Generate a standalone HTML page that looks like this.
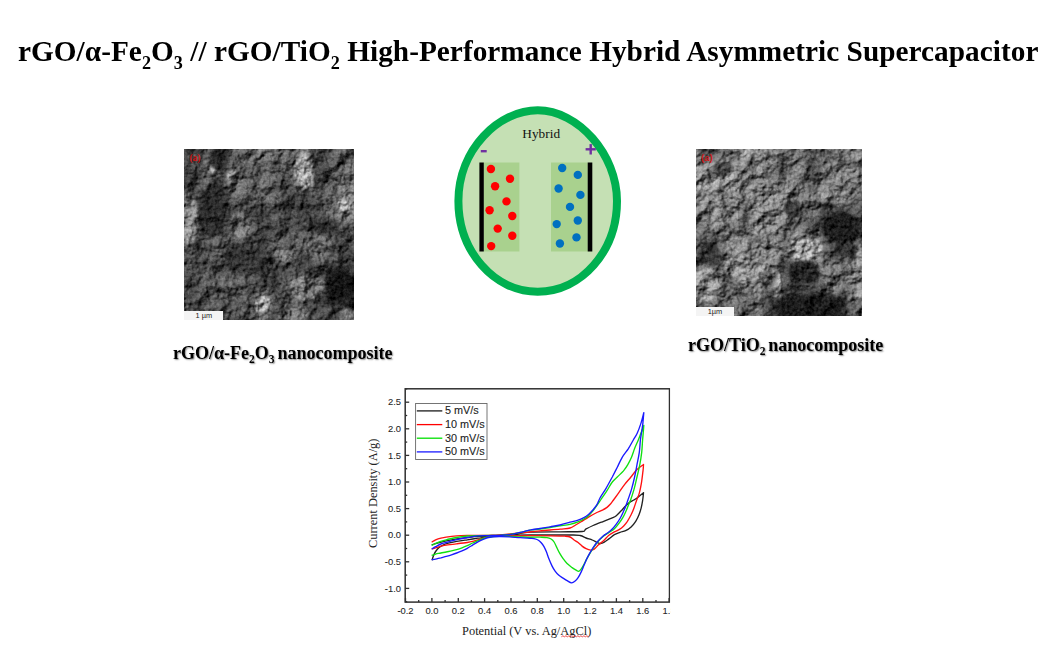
<!DOCTYPE html>
<html><head><meta charset="utf-8"><title>Graphical abstract</title>
<style>
html,body{margin:0;padding:0;background:#fff;}
body{width:1040px;height:648px;position:relative;overflow:hidden;font-family:"Liberation Serif",serif;color:#000;}
.abs{position:absolute;}
#title,.cap{will-change:transform;}
#title{left:17.5px;top:32.6px;width:1030px;font-size:29.27px;font-weight:bold;white-space:nowrap;line-height:36px;letter-spacing:0.035px;}
#title sub{font-size:62%;vertical-align:baseline;position:relative;top:0.42em;line-height:0;}
.cap sub{font-size:64%;vertical-align:baseline;position:relative;top:0.36em;line-height:0;}
.cap{font-size:18px;word-spacing:-1.6px;font-weight:bold;white-space:nowrap;line-height:20px;text-shadow:1px 1px 1.5px rgba(0,0,0,.45);}
#capL{left:173px;top:343px;}
#capR{left:688px;top:335px;}
.sem{overflow:hidden;background:#5a5a5a;}
#semL{left:184.4px;top:149px;width:170px;height:171px;}
#semR{left:696px;top:149px;width:166px;height:167px;}
.semsvg{display:block;position:absolute;left:0;top:0;}
.a{position:absolute;color:#d01818;font-weight:bold;font-size:9.5px;line-height:10px;}
.bar{position:absolute;left:0;bottom:0;background:#f4f4f4;color:#222;font-family:"Liberation Sans",sans-serif;font-size:7.4px;line-height:9.5px;text-align:center;}
svg text{font-family:"Liberation Sans",sans-serif;}
#main{left:0;top:0;}
.tk line{stroke:#303030;stroke-width:1.3;}
.tl text{font-size:9.4px;fill:#262626;stroke:#262626;stroke-width:0.08;}
.lg{font-size:10.85px;fill:#222;stroke:#222;stroke-width:0.1;}
.ser{font-family:"Liberation Serif",serif !important;}
</style></head><body>

<div id="semL" class="abs sem"><svg class="semsvg" width="170" height="171" viewBox="0 0 170 171"><defs><filter id="flb" filterUnits="userSpaceOnUse" x="-30" y="-30" width="230" height="231" color-interpolation-filters="sRGB"><feGaussianBlur stdDeviation="3.2"/></filter><filter id="fll" filterUnits="userSpaceOnUse" x="-30" y="-30" width="230" height="231" color-interpolation-filters="sRGB"><feTurbulence type="fractalNoise" baseFrequency="0.05" numOctaves="2" seed="5" result="d"/><feDisplacementMap in="SourceGraphic" in2="d" scale="10" xChannelSelector="R" yChannelSelector="G" result="dm"/><feGaussianBlur in="dm" stdDeviation="1.3"/></filter><filter id="fl" filterUnits="userSpaceOnUse" x="-30" y="-30" width="230" height="231" color-interpolation-filters="sRGB"><feTurbulence type="fractalNoise" baseFrequency="0.07" numOctaves="4" seed="3" result="t"/><feColorMatrix in="t" type="matrix" values="0 0 0 0 1  0 0 0 0 1  0 0 0 0 1  1 0 0 0 0" result="ha"/><feDiffuseLighting in="ha" surfaceScale="6" diffuseConstant="1" lighting-color="#fff" result="lit"><feDistantLight azimuth="225" elevation="50"/></feDiffuseLighting><feComposite in="SourceGraphic" in2="lit" operator="arithmetic" k1="1.36" k2="0.0" k3="0" k4="0" result="m"/><feTurbulence type="fractalNoise" baseFrequency="0.35" numOctaves="2" seed="8" result="t2"/><feColorMatrix in="t2" type="matrix" values="1 0 0 0 0 1 0 0 0 0 1 0 0 0 0 0 0 0 0 1" result="g2"/><feComposite in="m" in2="g2" operator="arithmetic" k1="0" k2="1" k3="0.25" k4="-0.125"/></filter></defs><g filter="url(#fl)"><rect x="-30" y="-30" width="230" height="231" fill="#555"/><g filter="url(#flb)"><rect x="-14.7" y="-14.8" width="15.2" height="15.2" fill="rgb(69,69,69)"/><rect x="-0.5" y="-14.8" width="15.2" height="15.2" fill="rgb(69,69,69)"/><rect x="13.7" y="-14.8" width="15.2" height="15.2" fill="rgb(87,87,87)"/><rect x="27.8" y="-14.8" width="15.2" height="15.2" fill="rgb(40,40,40)"/><rect x="42.0" y="-14.8" width="15.2" height="15.2" fill="rgb(81,81,81)"/><rect x="56.2" y="-14.8" width="15.2" height="15.2" fill="rgb(98,98,98)"/><rect x="70.3" y="-14.8" width="15.2" height="15.2" fill="rgb(110,110,110)"/><rect x="84.5" y="-14.8" width="15.2" height="15.2" fill="rgb(98,98,98)"/><rect x="98.7" y="-14.8" width="15.2" height="15.2" fill="rgb(92,92,92)"/><rect x="112.8" y="-14.8" width="15.2" height="15.2" fill="rgb(115,115,115)"/><rect x="127.0" y="-14.8" width="15.2" height="15.2" fill="rgb(63,63,63)"/><rect x="141.2" y="-14.8" width="15.2" height="15.2" fill="rgb(81,81,81)"/><rect x="155.3" y="-14.8" width="15.2" height="15.2" fill="rgb(92,92,92)"/><rect x="169.5" y="-14.8" width="15.2" height="15.2" fill="rgb(92,92,92)"/><rect x="-14.7" y="-0.5" width="15.2" height="15.2" fill="rgb(69,69,69)"/><rect x="-0.5" y="-0.5" width="15.2" height="15.2" fill="rgb(69,69,69)"/><rect x="13.7" y="-0.5" width="15.2" height="15.2" fill="rgb(87,87,87)"/><rect x="27.8" y="-0.5" width="15.2" height="15.2" fill="rgb(40,40,40)"/><rect x="42.0" y="-0.5" width="15.2" height="15.2" fill="rgb(81,81,81)"/><rect x="56.2" y="-0.5" width="15.2" height="15.2" fill="rgb(98,98,98)"/><rect x="70.3" y="-0.5" width="15.2" height="15.2" fill="rgb(110,110,110)"/><rect x="84.5" y="-0.5" width="15.2" height="15.2" fill="rgb(98,98,98)"/><rect x="98.7" y="-0.5" width="15.2" height="15.2" fill="rgb(92,92,92)"/><rect x="112.8" y="-0.5" width="15.2" height="15.2" fill="rgb(115,115,115)"/><rect x="127.0" y="-0.5" width="15.2" height="15.2" fill="rgb(63,63,63)"/><rect x="141.2" y="-0.5" width="15.2" height="15.2" fill="rgb(81,81,81)"/><rect x="155.3" y="-0.5" width="15.2" height="15.2" fill="rgb(92,92,92)"/><rect x="169.5" y="-0.5" width="15.2" height="15.2" fill="rgb(92,92,92)"/><rect x="-14.7" y="13.8" width="15.2" height="15.2" fill="rgb(63,63,63)"/><rect x="-0.5" y="13.8" width="15.2" height="15.2" fill="rgb(63,63,63)"/><rect x="13.7" y="13.8" width="15.2" height="15.2" fill="rgb(92,92,92)"/><rect x="27.8" y="13.8" width="15.2" height="15.2" fill="rgb(63,63,63)"/><rect x="42.0" y="13.8" width="15.2" height="15.2" fill="rgb(92,92,92)"/><rect x="56.2" y="13.8" width="15.2" height="15.2" fill="rgb(87,87,87)"/><rect x="70.3" y="13.8" width="15.2" height="15.2" fill="rgb(92,92,92)"/><rect x="84.5" y="13.8" width="15.2" height="15.2" fill="rgb(87,87,87)"/><rect x="98.7" y="13.8" width="15.2" height="15.2" fill="rgb(81,81,81)"/><rect x="112.8" y="13.8" width="15.2" height="15.2" fill="rgb(150,150,150)"/><rect x="127.0" y="13.8" width="15.2" height="15.2" fill="rgb(69,69,69)"/><rect x="141.2" y="13.8" width="15.2" height="15.2" fill="rgb(87,87,87)"/><rect x="155.3" y="13.8" width="15.2" height="15.2" fill="rgb(98,98,98)"/><rect x="169.5" y="13.8" width="15.2" height="15.2" fill="rgb(98,98,98)"/><rect x="-14.7" y="28.0" width="15.2" height="15.2" fill="rgb(57,57,57)"/><rect x="-0.5" y="28.0" width="15.2" height="15.2" fill="rgb(57,57,57)"/><rect x="13.7" y="28.0" width="15.2" height="15.2" fill="rgb(87,87,87)"/><rect x="27.8" y="28.0" width="15.2" height="15.2" fill="rgb(46,46,46)"/><rect x="42.0" y="28.0" width="15.2" height="15.2" fill="rgb(110,110,110)"/><rect x="56.2" y="28.0" width="15.2" height="15.2" fill="rgb(92,92,92)"/><rect x="70.3" y="28.0" width="15.2" height="15.2" fill="rgb(98,98,98)"/><rect x="84.5" y="28.0" width="15.2" height="15.2" fill="rgb(87,87,87)"/><rect x="98.7" y="28.0" width="15.2" height="15.2" fill="rgb(75,75,75)"/><rect x="112.8" y="28.0" width="15.2" height="15.2" fill="rgb(127,127,127)"/><rect x="127.0" y="28.0" width="15.2" height="15.2" fill="rgb(69,69,69)"/><rect x="141.2" y="28.0" width="15.2" height="15.2" fill="rgb(87,87,87)"/><rect x="155.3" y="28.0" width="15.2" height="15.2" fill="rgb(104,104,104)"/><rect x="169.5" y="28.0" width="15.2" height="15.2" fill="rgb(104,104,104)"/><rect x="-14.7" y="42.2" width="15.2" height="15.2" fill="rgb(81,81,81)"/><rect x="-0.5" y="42.2" width="15.2" height="15.2" fill="rgb(81,81,81)"/><rect x="13.7" y="42.2" width="15.2" height="15.2" fill="rgb(46,46,46)"/><rect x="27.8" y="42.2" width="15.2" height="15.2" fill="rgb(40,40,40)"/><rect x="42.0" y="42.2" width="15.2" height="15.2" fill="rgb(87,87,87)"/><rect x="56.2" y="42.2" width="15.2" height="15.2" fill="rgb(92,92,92)"/><rect x="70.3" y="42.2" width="15.2" height="15.2" fill="rgb(98,98,98)"/><rect x="84.5" y="42.2" width="15.2" height="15.2" fill="rgb(87,87,87)"/><rect x="98.7" y="42.2" width="15.2" height="15.2" fill="rgb(63,63,63)"/><rect x="112.8" y="42.2" width="15.2" height="15.2" fill="rgb(63,63,63)"/><rect x="127.0" y="42.2" width="15.2" height="15.2" fill="rgb(75,75,75)"/><rect x="141.2" y="42.2" width="15.2" height="15.2" fill="rgb(92,92,92)"/><rect x="155.3" y="42.2" width="15.2" height="15.2" fill="rgb(127,127,127)"/><rect x="169.5" y="42.2" width="15.2" height="15.2" fill="rgb(127,127,127)"/><rect x="-14.7" y="56.5" width="15.2" height="15.2" fill="rgb(104,104,104)"/><rect x="-0.5" y="56.5" width="15.2" height="15.2" fill="rgb(104,104,104)"/><rect x="13.7" y="56.5" width="15.2" height="15.2" fill="rgb(52,52,52)"/><rect x="27.8" y="56.5" width="15.2" height="15.2" fill="rgb(52,52,52)"/><rect x="42.0" y="56.5" width="15.2" height="15.2" fill="rgb(57,57,57)"/><rect x="56.2" y="56.5" width="15.2" height="15.2" fill="rgb(63,63,63)"/><rect x="70.3" y="56.5" width="15.2" height="15.2" fill="rgb(57,57,57)"/><rect x="84.5" y="56.5" width="15.2" height="15.2" fill="rgb(81,81,81)"/><rect x="98.7" y="56.5" width="15.2" height="15.2" fill="rgb(69,69,69)"/><rect x="112.8" y="56.5" width="15.2" height="15.2" fill="rgb(57,57,57)"/><rect x="127.0" y="56.5" width="15.2" height="15.2" fill="rgb(69,69,69)"/><rect x="141.2" y="56.5" width="15.2" height="15.2" fill="rgb(110,110,110)"/><rect x="155.3" y="56.5" width="15.2" height="15.2" fill="rgb(127,127,127)"/><rect x="169.5" y="56.5" width="15.2" height="15.2" fill="rgb(127,127,127)"/><rect x="-14.7" y="70.8" width="15.2" height="15.2" fill="rgb(110,110,110)"/><rect x="-0.5" y="70.8" width="15.2" height="15.2" fill="rgb(110,110,110)"/><rect x="13.7" y="70.8" width="15.2" height="15.2" fill="rgb(52,52,52)"/><rect x="27.8" y="70.8" width="15.2" height="15.2" fill="rgb(46,46,46)"/><rect x="42.0" y="70.8" width="15.2" height="15.2" fill="rgb(87,87,87)"/><rect x="56.2" y="70.8" width="15.2" height="15.2" fill="rgb(92,92,92)"/><rect x="70.3" y="70.8" width="15.2" height="15.2" fill="rgb(63,63,63)"/><rect x="84.5" y="70.8" width="15.2" height="15.2" fill="rgb(69,69,69)"/><rect x="98.7" y="70.8" width="15.2" height="15.2" fill="rgb(75,75,75)"/><rect x="112.8" y="70.8" width="15.2" height="15.2" fill="rgb(69,69,69)"/><rect x="127.0" y="70.8" width="15.2" height="15.2" fill="rgb(46,46,46)"/><rect x="141.2" y="70.8" width="15.2" height="15.2" fill="rgb(57,57,57)"/><rect x="155.3" y="70.8" width="15.2" height="15.2" fill="rgb(81,81,81)"/><rect x="169.5" y="70.8" width="15.2" height="15.2" fill="rgb(81,81,81)"/><rect x="-14.7" y="85.0" width="15.2" height="15.2" fill="rgb(92,92,92)"/><rect x="-0.5" y="85.0" width="15.2" height="15.2" fill="rgb(92,92,92)"/><rect x="13.7" y="85.0" width="15.2" height="15.2" fill="rgb(75,75,75)"/><rect x="27.8" y="85.0" width="15.2" height="15.2" fill="rgb(87,87,87)"/><rect x="42.0" y="85.0" width="15.2" height="15.2" fill="rgb(81,81,81)"/><rect x="56.2" y="85.0" width="15.2" height="15.2" fill="rgb(75,75,75)"/><rect x="70.3" y="85.0" width="15.2" height="15.2" fill="rgb(57,57,57)"/><rect x="84.5" y="85.0" width="15.2" height="15.2" fill="rgb(81,81,81)"/><rect x="98.7" y="85.0" width="15.2" height="15.2" fill="rgb(87,87,87)"/><rect x="112.8" y="85.0" width="15.2" height="15.2" fill="rgb(92,92,92)"/><rect x="127.0" y="85.0" width="15.2" height="15.2" fill="rgb(81,81,81)"/><rect x="141.2" y="85.0" width="15.2" height="15.2" fill="rgb(75,75,75)"/><rect x="155.3" y="85.0" width="15.2" height="15.2" fill="rgb(69,69,69)"/><rect x="169.5" y="85.0" width="15.2" height="15.2" fill="rgb(69,69,69)"/><rect x="-14.7" y="99.2" width="15.2" height="15.2" fill="rgb(75,75,75)"/><rect x="-0.5" y="99.2" width="15.2" height="15.2" fill="rgb(75,75,75)"/><rect x="13.7" y="99.2" width="15.2" height="15.2" fill="rgb(75,75,75)"/><rect x="27.8" y="99.2" width="15.2" height="15.2" fill="rgb(81,81,81)"/><rect x="42.0" y="99.2" width="15.2" height="15.2" fill="rgb(46,46,46)"/><rect x="56.2" y="99.2" width="15.2" height="15.2" fill="rgb(52,52,52)"/><rect x="70.3" y="99.2" width="15.2" height="15.2" fill="rgb(52,52,52)"/><rect x="84.5" y="99.2" width="15.2" height="15.2" fill="rgb(81,81,81)"/><rect x="98.7" y="99.2" width="15.2" height="15.2" fill="rgb(92,92,92)"/><rect x="112.8" y="99.2" width="15.2" height="15.2" fill="rgb(63,63,63)"/><rect x="127.0" y="99.2" width="15.2" height="15.2" fill="rgb(98,98,98)"/><rect x="141.2" y="99.2" width="15.2" height="15.2" fill="rgb(81,81,81)"/><rect x="155.3" y="99.2" width="15.2" height="15.2" fill="rgb(57,57,57)"/><rect x="169.5" y="99.2" width="15.2" height="15.2" fill="rgb(57,57,57)"/><rect x="-14.7" y="113.5" width="15.2" height="15.2" fill="rgb(75,75,75)"/><rect x="-0.5" y="113.5" width="15.2" height="15.2" fill="rgb(75,75,75)"/><rect x="13.7" y="113.5" width="15.2" height="15.2" fill="rgb(81,81,81)"/><rect x="27.8" y="113.5" width="15.2" height="15.2" fill="rgb(69,69,69)"/><rect x="42.0" y="113.5" width="15.2" height="15.2" fill="rgb(69,69,69)"/><rect x="56.2" y="113.5" width="15.2" height="15.2" fill="rgb(98,98,98)"/><rect x="70.3" y="113.5" width="15.2" height="15.2" fill="rgb(57,57,57)"/><rect x="84.5" y="113.5" width="15.2" height="15.2" fill="rgb(63,63,63)"/><rect x="98.7" y="113.5" width="15.2" height="15.2" fill="rgb(69,69,69)"/><rect x="112.8" y="113.5" width="15.2" height="15.2" fill="rgb(63,63,63)"/><rect x="127.0" y="113.5" width="15.2" height="15.2" fill="rgb(63,63,63)"/><rect x="141.2" y="113.5" width="15.2" height="15.2" fill="rgb(57,57,57)"/><rect x="155.3" y="113.5" width="15.2" height="15.2" fill="rgb(52,52,52)"/><rect x="169.5" y="113.5" width="15.2" height="15.2" fill="rgb(52,52,52)"/><rect x="-14.7" y="127.8" width="15.2" height="15.2" fill="rgb(63,63,63)"/><rect x="-0.5" y="127.8" width="15.2" height="15.2" fill="rgb(63,63,63)"/><rect x="13.7" y="127.8" width="15.2" height="15.2" fill="rgb(81,81,81)"/><rect x="27.8" y="127.8" width="15.2" height="15.2" fill="rgb(92,92,92)"/><rect x="42.0" y="127.8" width="15.2" height="15.2" fill="rgb(92,92,92)"/><rect x="56.2" y="127.8" width="15.2" height="15.2" fill="rgb(81,81,81)"/><rect x="70.3" y="127.8" width="15.2" height="15.2" fill="rgb(69,69,69)"/><rect x="84.5" y="127.8" width="15.2" height="15.2" fill="rgb(57,57,57)"/><rect x="98.7" y="127.8" width="15.2" height="15.2" fill="rgb(98,98,98)"/><rect x="112.8" y="127.8" width="15.2" height="15.2" fill="rgb(110,110,110)"/><rect x="127.0" y="127.8" width="15.2" height="15.2" fill="rgb(92,92,92)"/><rect x="141.2" y="127.8" width="15.2" height="15.2" fill="rgb(28,28,28)"/><rect x="155.3" y="127.8" width="15.2" height="15.2" fill="rgb(23,23,23)"/><rect x="169.5" y="127.8" width="15.2" height="15.2" fill="rgb(23,23,23)"/><rect x="-14.7" y="142.0" width="15.2" height="15.2" fill="rgb(75,75,75)"/><rect x="-0.5" y="142.0" width="15.2" height="15.2" fill="rgb(75,75,75)"/><rect x="13.7" y="142.0" width="15.2" height="15.2" fill="rgb(81,81,81)"/><rect x="27.8" y="142.0" width="15.2" height="15.2" fill="rgb(87,87,87)"/><rect x="42.0" y="142.0" width="15.2" height="15.2" fill="rgb(75,75,75)"/><rect x="56.2" y="142.0" width="15.2" height="15.2" fill="rgb(87,87,87)"/><rect x="70.3" y="142.0" width="15.2" height="15.2" fill="rgb(115,115,115)"/><rect x="84.5" y="142.0" width="15.2" height="15.2" fill="rgb(69,69,69)"/><rect x="98.7" y="142.0" width="15.2" height="15.2" fill="rgb(87,87,87)"/><rect x="112.8" y="142.0" width="15.2" height="15.2" fill="rgb(92,92,92)"/><rect x="127.0" y="142.0" width="15.2" height="15.2" fill="rgb(57,57,57)"/><rect x="141.2" y="142.0" width="15.2" height="15.2" fill="rgb(23,23,23)"/><rect x="155.3" y="142.0" width="15.2" height="15.2" fill="rgb(28,28,28)"/><rect x="169.5" y="142.0" width="15.2" height="15.2" fill="rgb(28,28,28)"/><rect x="-14.7" y="156.2" width="15.2" height="15.2" fill="rgb(75,75,75)"/><rect x="-0.5" y="156.2" width="15.2" height="15.2" fill="rgb(75,75,75)"/><rect x="13.7" y="156.2" width="15.2" height="15.2" fill="rgb(75,75,75)"/><rect x="27.8" y="156.2" width="15.2" height="15.2" fill="rgb(75,75,75)"/><rect x="42.0" y="156.2" width="15.2" height="15.2" fill="rgb(75,75,75)"/><rect x="56.2" y="156.2" width="15.2" height="15.2" fill="rgb(81,81,81)"/><rect x="70.3" y="156.2" width="15.2" height="15.2" fill="rgb(104,104,104)"/><rect x="84.5" y="156.2" width="15.2" height="15.2" fill="rgb(75,75,75)"/><rect x="98.7" y="156.2" width="15.2" height="15.2" fill="rgb(98,98,98)"/><rect x="112.8" y="156.2" width="15.2" height="15.2" fill="rgb(75,75,75)"/><rect x="127.0" y="156.2" width="15.2" height="15.2" fill="rgb(75,75,75)"/><rect x="141.2" y="156.2" width="15.2" height="15.2" fill="rgb(75,75,75)"/><rect x="155.3" y="156.2" width="15.2" height="15.2" fill="rgb(87,87,87)"/><rect x="169.5" y="156.2" width="15.2" height="15.2" fill="rgb(87,87,87)"/><rect x="-14.7" y="170.5" width="15.2" height="15.2" fill="rgb(75,75,75)"/><rect x="-0.5" y="170.5" width="15.2" height="15.2" fill="rgb(75,75,75)"/><rect x="13.7" y="170.5" width="15.2" height="15.2" fill="rgb(75,75,75)"/><rect x="27.8" y="170.5" width="15.2" height="15.2" fill="rgb(75,75,75)"/><rect x="42.0" y="170.5" width="15.2" height="15.2" fill="rgb(75,75,75)"/><rect x="56.2" y="170.5" width="15.2" height="15.2" fill="rgb(81,81,81)"/><rect x="70.3" y="170.5" width="15.2" height="15.2" fill="rgb(104,104,104)"/><rect x="84.5" y="170.5" width="15.2" height="15.2" fill="rgb(75,75,75)"/><rect x="98.7" y="170.5" width="15.2" height="15.2" fill="rgb(98,98,98)"/><rect x="112.8" y="170.5" width="15.2" height="15.2" fill="rgb(75,75,75)"/><rect x="127.0" y="170.5" width="15.2" height="15.2" fill="rgb(75,75,75)"/><rect x="141.2" y="170.5" width="15.2" height="15.2" fill="rgb(75,75,75)"/><rect x="155.3" y="170.5" width="15.2" height="15.2" fill="rgb(87,87,87)"/><rect x="169.5" y="170.5" width="15.2" height="15.2" fill="rgb(87,87,87)"/></g><g filter="url(#fll)" opacity="0.8"><ellipse cx="47.4" cy="28.8" rx="7.0" ry="6.0" fill="rgb(156,156,156)"/><ellipse cx="30.4" cy="21.6" rx="4.0" ry="4.0" fill="rgb(162,162,162)"/><ellipse cx="121.0" cy="21.6" rx="9.0" ry="16.0" fill="rgb(162,162,162)"/><ellipse cx="160.0" cy="56.5" rx="10.0" ry="6.0" fill="rgb(174,174,174)"/><ellipse cx="4.3" cy="69.6" rx="8.0" ry="27.0" fill="rgb(133,133,133)"/><ellipse cx="56.5" cy="75.0" rx="11.0" ry="12.0" fill="rgb(115,115,115)"/><ellipse cx="78.0" cy="155.0" rx="7.0" ry="9.0" fill="rgb(174,174,174)"/><ellipse cx="122.0" cy="139.0" rx="17.0" ry="12.0" fill="rgb(121,121,121)"/><ellipse cx="97.0" cy="104.0" rx="10.0" ry="9.0" fill="rgb(115,115,115)"/><ellipse cx="132.0" cy="97.0" rx="14.0" ry="10.0" fill="rgb(110,110,110)"/><ellipse cx="60.0" cy="120.0" rx="5.0" ry="5.0" fill="rgb(127,127,127)"/><ellipse cx="109.0" cy="163.0" rx="15.0" ry="7.0" fill="rgb(115,115,115)"/><ellipse cx="163.0" cy="165.0" rx="7.0" ry="5.0" fill="rgb(121,121,121)"/><ellipse cx="27.0" cy="62.7" rx="14.0" ry="25.0" fill="rgb(44,44,44)"/><ellipse cx="37.0" cy="10.0" rx="9.0" ry="10.0" fill="rgb(40,40,40)"/><ellipse cx="155.0" cy="134.0" rx="15.0" ry="16.0" fill="rgb(20,20,20)"/><ellipse cx="63.0" cy="115.0" rx="22.0" ry="12.0" fill="rgb(48,48,48)"/><ellipse cx="142.0" cy="78.0" rx="14.0" ry="7.0" fill="rgb(46,46,46)"/><ellipse cx="135.0" cy="20.0" rx="6.0" ry="20.0" fill="rgb(60,60,60)"/></g></g></svg><span class="a" style="left:5px;top:4px;">(a)</span><div class="bar" style="width:39px;height:9px;">1 &micro;m</div></div>
<div id="semR" class="abs sem"><svg class="semsvg" width="166" height="167" viewBox="0 0 166 167"><defs><filter id="frb" filterUnits="userSpaceOnUse" x="-30" y="-30" width="226" height="227" color-interpolation-filters="sRGB"><feGaussianBlur stdDeviation="3.2"/></filter><filter id="frl" filterUnits="userSpaceOnUse" x="-30" y="-30" width="226" height="227" color-interpolation-filters="sRGB"><feTurbulence type="fractalNoise" baseFrequency="0.05" numOctaves="2" seed="13" result="d"/><feDisplacementMap in="SourceGraphic" in2="d" scale="10" xChannelSelector="R" yChannelSelector="G" result="dm"/><feGaussianBlur in="dm" stdDeviation="1.3"/></filter><filter id="fr" filterUnits="userSpaceOnUse" x="-30" y="-30" width="226" height="227" color-interpolation-filters="sRGB"><feTurbulence type="fractalNoise" baseFrequency="0.07" numOctaves="4" seed="11" result="t"/><feColorMatrix in="t" type="matrix" values="0 0 0 0 1  0 0 0 0 1  0 0 0 0 1  1 0 0 0 0" result="ha"/><feDiffuseLighting in="ha" surfaceScale="5.5" diffuseConstant="1" lighting-color="#fff" result="lit"><feDistantLight azimuth="225" elevation="50"/></feDiffuseLighting><feComposite in="SourceGraphic" in2="lit" operator="arithmetic" k1="1.34" k2="0.0" k3="0" k4="0" result="m"/><feTurbulence type="fractalNoise" baseFrequency="0.35" numOctaves="2" seed="16" result="t2"/><feColorMatrix in="t2" type="matrix" values="1 0 0 0 0 1 0 0 0 0 1 0 0 0 0 0 0 0 0 1" result="g2"/><feComposite in="m" in2="g2" operator="arithmetic" k1="0" k2="1" k3="0.25" k4="-0.125"/></filter></defs><g filter="url(#fr)"><rect x="-30" y="-30" width="226" height="227" fill="#555"/><g filter="url(#frb)"><rect x="-14.3" y="-14.4" width="14.8" height="14.9" fill="rgb(110,110,110)"/><rect x="-0.5" y="-14.4" width="14.8" height="14.9" fill="rgb(110,110,110)"/><rect x="13.3" y="-14.4" width="14.8" height="14.9" fill="rgb(97,97,97)"/><rect x="27.2" y="-14.4" width="14.8" height="14.9" fill="rgb(110,110,110)"/><rect x="41.0" y="-14.4" width="14.8" height="14.9" fill="rgb(143,143,143)"/><rect x="54.8" y="-14.4" width="14.8" height="14.9" fill="rgb(130,130,130)"/><rect x="68.7" y="-14.4" width="14.8" height="14.9" fill="rgb(117,117,117)"/><rect x="82.5" y="-14.4" width="14.8" height="14.9" fill="rgb(104,104,104)"/><rect x="96.3" y="-14.4" width="14.8" height="14.9" fill="rgb(110,110,110)"/><rect x="110.2" y="-14.4" width="14.8" height="14.9" fill="rgb(84,84,84)"/><rect x="124.0" y="-14.4" width="14.8" height="14.9" fill="rgb(97,97,97)"/><rect x="137.8" y="-14.4" width="14.8" height="14.9" fill="rgb(110,110,110)"/><rect x="151.7" y="-14.4" width="14.8" height="14.9" fill="rgb(117,117,117)"/><rect x="165.5" y="-14.4" width="14.8" height="14.9" fill="rgb(117,117,117)"/><rect x="-14.3" y="-0.5" width="14.8" height="14.9" fill="rgb(110,110,110)"/><rect x="-0.5" y="-0.5" width="14.8" height="14.9" fill="rgb(110,110,110)"/><rect x="13.3" y="-0.5" width="14.8" height="14.9" fill="rgb(97,97,97)"/><rect x="27.2" y="-0.5" width="14.8" height="14.9" fill="rgb(110,110,110)"/><rect x="41.0" y="-0.5" width="14.8" height="14.9" fill="rgb(143,143,143)"/><rect x="54.8" y="-0.5" width="14.8" height="14.9" fill="rgb(130,130,130)"/><rect x="68.7" y="-0.5" width="14.8" height="14.9" fill="rgb(117,117,117)"/><rect x="82.5" y="-0.5" width="14.8" height="14.9" fill="rgb(104,104,104)"/><rect x="96.3" y="-0.5" width="14.8" height="14.9" fill="rgb(110,110,110)"/><rect x="110.2" y="-0.5" width="14.8" height="14.9" fill="rgb(84,84,84)"/><rect x="124.0" y="-0.5" width="14.8" height="14.9" fill="rgb(97,97,97)"/><rect x="137.8" y="-0.5" width="14.8" height="14.9" fill="rgb(110,110,110)"/><rect x="151.7" y="-0.5" width="14.8" height="14.9" fill="rgb(117,117,117)"/><rect x="165.5" y="-0.5" width="14.8" height="14.9" fill="rgb(117,117,117)"/><rect x="-14.3" y="13.4" width="14.8" height="14.9" fill="rgb(130,130,130)"/><rect x="-0.5" y="13.4" width="14.8" height="14.9" fill="rgb(130,130,130)"/><rect x="13.3" y="13.4" width="14.8" height="14.9" fill="rgb(136,136,136)"/><rect x="27.2" y="13.4" width="14.8" height="14.9" fill="rgb(149,149,149)"/><rect x="41.0" y="13.4" width="14.8" height="14.9" fill="rgb(117,117,117)"/><rect x="54.8" y="13.4" width="14.8" height="14.9" fill="rgb(143,143,143)"/><rect x="68.7" y="13.4" width="14.8" height="14.9" fill="rgb(104,104,104)"/><rect x="82.5" y="13.4" width="14.8" height="14.9" fill="rgb(91,91,91)"/><rect x="96.3" y="13.4" width="14.8" height="14.9" fill="rgb(117,117,117)"/><rect x="110.2" y="13.4" width="14.8" height="14.9" fill="rgb(71,71,71)"/><rect x="124.0" y="13.4" width="14.8" height="14.9" fill="rgb(117,117,117)"/><rect x="137.8" y="13.4" width="14.8" height="14.9" fill="rgb(123,123,123)"/><rect x="151.7" y="13.4" width="14.8" height="14.9" fill="rgb(110,110,110)"/><rect x="165.5" y="13.4" width="14.8" height="14.9" fill="rgb(110,110,110)"/><rect x="-14.3" y="27.3" width="14.8" height="14.9" fill="rgb(143,143,143)"/><rect x="-0.5" y="27.3" width="14.8" height="14.9" fill="rgb(143,143,143)"/><rect x="13.3" y="27.3" width="14.8" height="14.9" fill="rgb(149,149,149)"/><rect x="27.2" y="27.3" width="14.8" height="14.9" fill="rgb(143,143,143)"/><rect x="41.0" y="27.3" width="14.8" height="14.9" fill="rgb(117,117,117)"/><rect x="54.8" y="27.3" width="14.8" height="14.9" fill="rgb(110,110,110)"/><rect x="68.7" y="27.3" width="14.8" height="14.9" fill="rgb(104,104,104)"/><rect x="82.5" y="27.3" width="14.8" height="14.9" fill="rgb(117,117,117)"/><rect x="96.3" y="27.3" width="14.8" height="14.9" fill="rgb(110,110,110)"/><rect x="110.2" y="27.3" width="14.8" height="14.9" fill="rgb(97,97,97)"/><rect x="124.0" y="27.3" width="14.8" height="14.9" fill="rgb(123,123,123)"/><rect x="137.8" y="27.3" width="14.8" height="14.9" fill="rgb(123,123,123)"/><rect x="151.7" y="27.3" width="14.8" height="14.9" fill="rgb(104,104,104)"/><rect x="165.5" y="27.3" width="14.8" height="14.9" fill="rgb(104,104,104)"/><rect x="-14.3" y="41.2" width="14.8" height="14.9" fill="rgb(117,117,117)"/><rect x="-0.5" y="41.2" width="14.8" height="14.9" fill="rgb(117,117,117)"/><rect x="13.3" y="41.2" width="14.8" height="14.9" fill="rgb(136,136,136)"/><rect x="27.2" y="41.2" width="14.8" height="14.9" fill="rgb(136,136,136)"/><rect x="41.0" y="41.2" width="14.8" height="14.9" fill="rgb(97,97,97)"/><rect x="54.8" y="41.2" width="14.8" height="14.9" fill="rgb(117,117,117)"/><rect x="68.7" y="41.2" width="14.8" height="14.9" fill="rgb(143,143,143)"/><rect x="82.5" y="41.2" width="14.8" height="14.9" fill="rgb(130,130,130)"/><rect x="96.3" y="41.2" width="14.8" height="14.9" fill="rgb(110,110,110)"/><rect x="110.2" y="41.2" width="14.8" height="14.9" fill="rgb(110,110,110)"/><rect x="124.0" y="41.2" width="14.8" height="14.9" fill="rgb(130,130,130)"/><rect x="137.8" y="41.2" width="14.8" height="14.9" fill="rgb(143,143,143)"/><rect x="151.7" y="41.2" width="14.8" height="14.9" fill="rgb(97,97,97)"/><rect x="165.5" y="41.2" width="14.8" height="14.9" fill="rgb(97,97,97)"/><rect x="-14.3" y="55.2" width="14.8" height="14.9" fill="rgb(123,123,123)"/><rect x="-0.5" y="55.2" width="14.8" height="14.9" fill="rgb(123,123,123)"/><rect x="13.3" y="55.2" width="14.8" height="14.9" fill="rgb(143,143,143)"/><rect x="27.2" y="55.2" width="14.8" height="14.9" fill="rgb(130,130,130)"/><rect x="41.0" y="55.2" width="14.8" height="14.9" fill="rgb(78,78,78)"/><rect x="54.8" y="55.2" width="14.8" height="14.9" fill="rgb(130,130,130)"/><rect x="68.7" y="55.2" width="14.8" height="14.9" fill="rgb(136,136,136)"/><rect x="82.5" y="55.2" width="14.8" height="14.9" fill="rgb(130,130,130)"/><rect x="96.3" y="55.2" width="14.8" height="14.9" fill="rgb(104,104,104)"/><rect x="110.2" y="55.2" width="14.8" height="14.9" fill="rgb(104,104,104)"/><rect x="124.0" y="55.2" width="14.8" height="14.9" fill="rgb(58,58,58)"/><rect x="137.8" y="55.2" width="14.8" height="14.9" fill="rgb(71,71,71)"/><rect x="151.7" y="55.2" width="14.8" height="14.9" fill="rgb(78,78,78)"/><rect x="165.5" y="55.2" width="14.8" height="14.9" fill="rgb(78,78,78)"/><rect x="-14.3" y="69.1" width="14.8" height="14.9" fill="rgb(104,104,104)"/><rect x="-0.5" y="69.1" width="14.8" height="14.9" fill="rgb(104,104,104)"/><rect x="13.3" y="69.1" width="14.8" height="14.9" fill="rgb(123,123,123)"/><rect x="27.2" y="69.1" width="14.8" height="14.9" fill="rgb(97,97,97)"/><rect x="41.0" y="69.1" width="14.8" height="14.9" fill="rgb(91,91,91)"/><rect x="54.8" y="69.1" width="14.8" height="14.9" fill="rgb(130,130,130)"/><rect x="68.7" y="69.1" width="14.8" height="14.9" fill="rgb(117,117,117)"/><rect x="82.5" y="69.1" width="14.8" height="14.9" fill="rgb(110,110,110)"/><rect x="96.3" y="69.1" width="14.8" height="14.9" fill="rgb(97,97,97)"/><rect x="110.2" y="69.1" width="14.8" height="14.9" fill="rgb(71,71,71)"/><rect x="124.0" y="69.1" width="14.8" height="14.9" fill="rgb(52,52,52)"/><rect x="137.8" y="69.1" width="14.8" height="14.9" fill="rgb(52,52,52)"/><rect x="151.7" y="69.1" width="14.8" height="14.9" fill="rgb(58,58,58)"/><rect x="165.5" y="69.1" width="14.8" height="14.9" fill="rgb(58,58,58)"/><rect x="-14.3" y="83.0" width="14.8" height="14.9" fill="rgb(91,91,91)"/><rect x="-0.5" y="83.0" width="14.8" height="14.9" fill="rgb(91,91,91)"/><rect x="13.3" y="83.0" width="14.8" height="14.9" fill="rgb(97,97,97)"/><rect x="27.2" y="83.0" width="14.8" height="14.9" fill="rgb(123,123,123)"/><rect x="41.0" y="83.0" width="14.8" height="14.9" fill="rgb(123,123,123)"/><rect x="54.8" y="83.0" width="14.8" height="14.9" fill="rgb(104,104,104)"/><rect x="68.7" y="83.0" width="14.8" height="14.9" fill="rgb(130,130,130)"/><rect x="82.5" y="83.0" width="14.8" height="14.9" fill="rgb(91,91,91)"/><rect x="96.3" y="83.0" width="14.8" height="14.9" fill="rgb(130,130,130)"/><rect x="110.2" y="83.0" width="14.8" height="14.9" fill="rgb(143,143,143)"/><rect x="124.0" y="83.0" width="14.8" height="14.9" fill="rgb(78,78,78)"/><rect x="137.8" y="83.0" width="14.8" height="14.9" fill="rgb(71,71,71)"/><rect x="151.7" y="83.0" width="14.8" height="14.9" fill="rgb(78,78,78)"/><rect x="165.5" y="83.0" width="14.8" height="14.9" fill="rgb(78,78,78)"/><rect x="-14.3" y="96.9" width="14.8" height="14.9" fill="rgb(84,84,84)"/><rect x="-0.5" y="96.9" width="14.8" height="14.9" fill="rgb(84,84,84)"/><rect x="13.3" y="96.9" width="14.8" height="14.9" fill="rgb(91,91,91)"/><rect x="27.2" y="96.9" width="14.8" height="14.9" fill="rgb(130,130,130)"/><rect x="41.0" y="96.9" width="14.8" height="14.9" fill="rgb(130,130,130)"/><rect x="54.8" y="96.9" width="14.8" height="14.9" fill="rgb(130,130,130)"/><rect x="68.7" y="96.9" width="14.8" height="14.9" fill="rgb(136,136,136)"/><rect x="82.5" y="96.9" width="14.8" height="14.9" fill="rgb(104,104,104)"/><rect x="96.3" y="96.9" width="14.8" height="14.9" fill="rgb(169,169,169)"/><rect x="110.2" y="96.9" width="14.8" height="14.9" fill="rgb(156,156,156)"/><rect x="124.0" y="96.9" width="14.8" height="14.9" fill="rgb(84,84,84)"/><rect x="137.8" y="96.9" width="14.8" height="14.9" fill="rgb(71,71,71)"/><rect x="151.7" y="96.9" width="14.8" height="14.9" fill="rgb(123,123,123)"/><rect x="165.5" y="96.9" width="14.8" height="14.9" fill="rgb(123,123,123)"/><rect x="-14.3" y="110.8" width="14.8" height="14.9" fill="rgb(97,97,97)"/><rect x="-0.5" y="110.8" width="14.8" height="14.9" fill="rgb(97,97,97)"/><rect x="13.3" y="110.8" width="14.8" height="14.9" fill="rgb(84,84,84)"/><rect x="27.2" y="110.8" width="14.8" height="14.9" fill="rgb(143,143,143)"/><rect x="41.0" y="110.8" width="14.8" height="14.9" fill="rgb(143,143,143)"/><rect x="54.8" y="110.8" width="14.8" height="14.9" fill="rgb(136,136,136)"/><rect x="68.7" y="110.8" width="14.8" height="14.9" fill="rgb(123,123,123)"/><rect x="82.5" y="110.8" width="14.8" height="14.9" fill="rgb(65,65,65)"/><rect x="96.3" y="110.8" width="14.8" height="14.9" fill="rgb(71,71,71)"/><rect x="110.2" y="110.8" width="14.8" height="14.9" fill="rgb(97,97,97)"/><rect x="124.0" y="110.8" width="14.8" height="14.9" fill="rgb(117,117,117)"/><rect x="137.8" y="110.8" width="14.8" height="14.9" fill="rgb(84,84,84)"/><rect x="151.7" y="110.8" width="14.8" height="14.9" fill="rgb(130,130,130)"/><rect x="165.5" y="110.8" width="14.8" height="14.9" fill="rgb(130,130,130)"/><rect x="-14.3" y="124.8" width="14.8" height="14.9" fill="rgb(149,149,149)"/><rect x="-0.5" y="124.8" width="14.8" height="14.9" fill="rgb(149,149,149)"/><rect x="13.3" y="124.8" width="14.8" height="14.9" fill="rgb(130,130,130)"/><rect x="27.2" y="124.8" width="14.8" height="14.9" fill="rgb(84,84,84)"/><rect x="41.0" y="124.8" width="14.8" height="14.9" fill="rgb(136,136,136)"/><rect x="54.8" y="124.8" width="14.8" height="14.9" fill="rgb(130,130,130)"/><rect x="68.7" y="124.8" width="14.8" height="14.9" fill="rgb(97,97,97)"/><rect x="82.5" y="124.8" width="14.8" height="14.9" fill="rgb(78,78,78)"/><rect x="96.3" y="124.8" width="14.8" height="14.9" fill="rgb(65,65,65)"/><rect x="110.2" y="124.8" width="14.8" height="14.9" fill="rgb(65,65,65)"/><rect x="124.0" y="124.8" width="14.8" height="14.9" fill="rgb(97,97,97)"/><rect x="137.8" y="124.8" width="14.8" height="14.9" fill="rgb(123,123,123)"/><rect x="151.7" y="124.8" width="14.8" height="14.9" fill="rgb(123,123,123)"/><rect x="165.5" y="124.8" width="14.8" height="14.9" fill="rgb(123,123,123)"/><rect x="-14.3" y="138.7" width="14.8" height="14.9" fill="rgb(143,143,143)"/><rect x="-0.5" y="138.7" width="14.8" height="14.9" fill="rgb(143,143,143)"/><rect x="13.3" y="138.7" width="14.8" height="14.9" fill="rgb(123,123,123)"/><rect x="27.2" y="138.7" width="14.8" height="14.9" fill="rgb(110,110,110)"/><rect x="41.0" y="138.7" width="14.8" height="14.9" fill="rgb(97,97,97)"/><rect x="54.8" y="138.7" width="14.8" height="14.9" fill="rgb(117,117,117)"/><rect x="68.7" y="138.7" width="14.8" height="14.9" fill="rgb(84,84,84)"/><rect x="82.5" y="138.7" width="14.8" height="14.9" fill="rgb(65,65,65)"/><rect x="96.3" y="138.7" width="14.8" height="14.9" fill="rgb(58,58,58)"/><rect x="110.2" y="138.7" width="14.8" height="14.9" fill="rgb(58,58,58)"/><rect x="124.0" y="138.7" width="14.8" height="14.9" fill="rgb(91,91,91)"/><rect x="137.8" y="138.7" width="14.8" height="14.9" fill="rgb(71,71,71)"/><rect x="151.7" y="138.7" width="14.8" height="14.9" fill="rgb(117,117,117)"/><rect x="165.5" y="138.7" width="14.8" height="14.9" fill="rgb(117,117,117)"/><rect x="-14.3" y="152.6" width="14.8" height="14.9" fill="rgb(91,91,91)"/><rect x="-0.5" y="152.6" width="14.8" height="14.9" fill="rgb(91,91,91)"/><rect x="13.3" y="152.6" width="14.8" height="14.9" fill="rgb(91,91,91)"/><rect x="27.2" y="152.6" width="14.8" height="14.9" fill="rgb(104,104,104)"/><rect x="41.0" y="152.6" width="14.8" height="14.9" fill="rgb(97,97,97)"/><rect x="54.8" y="152.6" width="14.8" height="14.9" fill="rgb(104,104,104)"/><rect x="68.7" y="152.6" width="14.8" height="14.9" fill="rgb(58,58,58)"/><rect x="82.5" y="152.6" width="14.8" height="14.9" fill="rgb(45,45,45)"/><rect x="96.3" y="152.6" width="14.8" height="14.9" fill="rgb(58,58,58)"/><rect x="110.2" y="152.6" width="14.8" height="14.9" fill="rgb(58,58,58)"/><rect x="124.0" y="152.6" width="14.8" height="14.9" fill="rgb(39,39,39)"/><rect x="137.8" y="152.6" width="14.8" height="14.9" fill="rgb(45,45,45)"/><rect x="151.7" y="152.6" width="14.8" height="14.9" fill="rgb(97,97,97)"/><rect x="165.5" y="152.6" width="14.8" height="14.9" fill="rgb(97,97,97)"/><rect x="-14.3" y="166.5" width="14.8" height="14.9" fill="rgb(91,91,91)"/><rect x="-0.5" y="166.5" width="14.8" height="14.9" fill="rgb(91,91,91)"/><rect x="13.3" y="166.5" width="14.8" height="14.9" fill="rgb(91,91,91)"/><rect x="27.2" y="166.5" width="14.8" height="14.9" fill="rgb(104,104,104)"/><rect x="41.0" y="166.5" width="14.8" height="14.9" fill="rgb(97,97,97)"/><rect x="54.8" y="166.5" width="14.8" height="14.9" fill="rgb(104,104,104)"/><rect x="68.7" y="166.5" width="14.8" height="14.9" fill="rgb(58,58,58)"/><rect x="82.5" y="166.5" width="14.8" height="14.9" fill="rgb(45,45,45)"/><rect x="96.3" y="166.5" width="14.8" height="14.9" fill="rgb(58,58,58)"/><rect x="110.2" y="166.5" width="14.8" height="14.9" fill="rgb(58,58,58)"/><rect x="124.0" y="166.5" width="14.8" height="14.9" fill="rgb(39,39,39)"/><rect x="137.8" y="166.5" width="14.8" height="14.9" fill="rgb(45,45,45)"/><rect x="151.7" y="166.5" width="14.8" height="14.9" fill="rgb(97,97,97)"/><rect x="165.5" y="166.5" width="14.8" height="14.9" fill="rgb(97,97,97)"/></g><g filter="url(#frl)" opacity="0.8"><ellipse cx="109.0" cy="99.0" rx="15.0" ry="11.0" fill="rgb(168,168,168)"/><ellipse cx="12.0" cy="136.0" rx="12.0" ry="15.0" fill="rgb(145,145,145)"/><ellipse cx="47.0" cy="117.0" rx="19.0" ry="10.0" fill="rgb(140,140,140)"/><ellipse cx="67.6" cy="50.0" rx="18.0" ry="18.0" fill="rgb(128,128,128)"/><ellipse cx="27.0" cy="56.0" rx="22.0" ry="23.0" fill="rgb(128,128,128)"/><ellipse cx="145.0" cy="32.0" rx="20.0" ry="19.0" fill="rgb(117,117,117)"/><ellipse cx="162.0" cy="124.0" rx="5.0" ry="27.0" fill="rgb(134,134,134)"/><ellipse cx="138.0" cy="129.0" rx="11.0" ry="16.0" fill="rgb(117,117,117)"/><ellipse cx="82.0" cy="137.7" rx="4.0" ry="15.0" fill="rgb(156,156,156)"/><ellipse cx="56.5" cy="15.4" rx="20.0" ry="10.0" fill="rgb(123,123,123)"/><ellipse cx="69.0" cy="76.5" rx="16.0" ry="11.0" fill="rgb(128,128,128)"/><ellipse cx="144.0" cy="79.0" rx="19.0" ry="15.0" fill="rgb(22,22,22)"/><ellipse cx="113.0" cy="157.0" rx="38.0" ry="11.0" fill="rgb(20,20,20)"/><ellipse cx="108.0" cy="122.0" rx="16.0" ry="10.0" fill="rgb(31,31,31)"/><ellipse cx="13.4" cy="104.0" rx="11.0" ry="13.0" fill="rgb(44,44,44)"/><ellipse cx="97.5" cy="60.0" rx="8.0" ry="8.0" fill="rgb(39,39,39)"/><ellipse cx="26.0" cy="19.6" rx="10.0" ry="7.0" fill="rgb(56,56,56)"/><ellipse cx="150.0" cy="100.0" rx="12.0" ry="8.0" fill="rgb(39,39,39)"/></g></g></svg><span class="a" style="left:5px;top:4px;font-family:'Liberation Sans',sans-serif;">(a)</span><div class="bar" style="width:38px;height:9px;">1&micro;m</div></div>


<svg id="main" class="abs" width="1040" height="648" viewBox="0 0 1040 648">
<!-- hybrid cell -->
<path d="M458.4 201.0 C458.4 149.3 498.8 110.3 537.7 110.3 C578.3 110.3 617.0 154.6 617.0 201.0 C617.0 251.1 581.5 291.7 537.7 291.7 C493.9 291.7 458.4 251.1 458.4 201.0 Z" fill="#c5e0b4" stroke="#00b050" stroke-width="8"/>
<rect x="483.8" y="162.5" width="35.6" height="89" fill="#a9d18e"/>
<rect x="551" y="162.5" width="36.7" height="89" fill="#a9d18e"/>
<rect x="479.4" y="162.5" width="4.4" height="89" fill="#000"/>
<rect x="587.7" y="162.5" width="4.6" height="89" fill="#000"/>
<circle cx="490.9" cy="169.0" r="4.2" fill="#ff0000"/><circle cx="510.0" cy="178.7" r="4.2" fill="#ff0000"/><circle cx="495.1" cy="186.2" r="4.2" fill="#ff0000"/><circle cx="506.5" cy="201.4" r="4.2" fill="#ff0000"/><circle cx="489.6" cy="210.2" r="4.2" fill="#ff0000"/><circle cx="512.3" cy="216.0" r="4.2" fill="#ff0000"/><circle cx="497.7" cy="228.6" r="4.2" fill="#ff0000"/><circle cx="512.3" cy="235.8" r="4.2" fill="#ff0000"/><circle cx="491.2" cy="246.1" r="4.2" fill="#ff0000"/><circle cx="562.2" cy="168.0" r="4.2" fill="#0070c0"/><circle cx="577.8" cy="174.9" r="4.2" fill="#0070c0"/><circle cx="558.6" cy="188.5" r="4.2" fill="#0070c0"/><circle cx="580.4" cy="194.9" r="4.2" fill="#0070c0"/><circle cx="570.0" cy="206.9" r="4.2" fill="#0070c0"/><circle cx="577.8" cy="220.5" r="4.2" fill="#0070c0"/><circle cx="556.7" cy="224.1" r="4.2" fill="#0070c0"/><circle cx="576.5" cy="237.4" r="4.2" fill="#0070c0"/><circle cx="559.9" cy="243.5" r="4.2" fill="#0070c0"/>
<text x="541.2" y="137.5" text-anchor="middle" class="ser" style="font-size:13.3px;fill:#111;">Hybrid</text>
<rect x="480.8" y="150" width="5.9" height="2.4" fill="#7030a0"/>
<rect x="585.6" y="148.1" width="10.2" height="2.4" fill="#7030a0"/>
<rect x="589.5" y="144.1" width="2.4" height="10.4" fill="#7030a0"/>

<!-- chart -->
<rect x="405.2" y="388.8" width="264.3" height="213.3" fill="#fff" stroke="#303030" stroke-width="1.5"/>
<g class="tk"><line x1="405.5" y1="602.1" x2="405.5" y2="598.1"/><line x1="418.7" y1="602.1" x2="418.7" y2="600.1"/><line x1="431.9" y1="602.1" x2="431.9" y2="598.1"/><line x1="445.1" y1="602.1" x2="445.1" y2="600.1"/><line x1="458.3" y1="602.1" x2="458.3" y2="598.1"/><line x1="471.4" y1="602.1" x2="471.4" y2="600.1"/><line x1="484.6" y1="602.1" x2="484.6" y2="598.1"/><line x1="497.8" y1="602.1" x2="497.8" y2="600.1"/><line x1="511.0" y1="602.1" x2="511.0" y2="598.1"/><line x1="524.2" y1="602.1" x2="524.2" y2="600.1"/><line x1="537.3" y1="602.1" x2="537.3" y2="598.1"/><line x1="550.5" y1="602.1" x2="550.5" y2="600.1"/><line x1="563.7" y1="602.1" x2="563.7" y2="598.1"/><line x1="576.9" y1="602.1" x2="576.9" y2="600.1"/><line x1="590.1" y1="602.1" x2="590.1" y2="598.1"/><line x1="603.2" y1="602.1" x2="603.2" y2="600.1"/><line x1="616.4" y1="602.1" x2="616.4" y2="598.1"/><line x1="629.6" y1="602.1" x2="629.6" y2="600.1"/><line x1="642.8" y1="602.1" x2="642.8" y2="598.1"/><line x1="656.0" y1="602.1" x2="656.0" y2="600.1"/><line x1="669.1" y1="602.1" x2="669.1" y2="598.1"/><line x1="405.2" y1="601.7" x2="407.2" y2="601.7"/><line x1="405.2" y1="588.4" x2="409.2" y2="588.4"/><line x1="405.2" y1="575.1" x2="407.2" y2="575.1"/><line x1="405.2" y1="561.8" x2="409.2" y2="561.8"/><line x1="405.2" y1="548.5" x2="407.2" y2="548.5"/><line x1="405.2" y1="535.2" x2="409.2" y2="535.2"/><line x1="405.2" y1="521.9" x2="407.2" y2="521.9"/><line x1="405.2" y1="508.6" x2="409.2" y2="508.6"/><line x1="405.2" y1="495.3" x2="407.2" y2="495.3"/><line x1="405.2" y1="482.0" x2="409.2" y2="482.0"/><line x1="405.2" y1="468.7" x2="407.2" y2="468.7"/><line x1="405.2" y1="455.4" x2="409.2" y2="455.4"/><line x1="405.2" y1="442.1" x2="407.2" y2="442.1"/><line x1="405.2" y1="428.8" x2="409.2" y2="428.8"/><line x1="405.2" y1="415.5" x2="407.2" y2="415.5"/><line x1="405.2" y1="402.2" x2="409.2" y2="402.2"/><line x1="405.2" y1="388.9" x2="407.2" y2="388.9"/></g>
<g class="tl"><text x="405.5" y="613.6" text-anchor="middle">-0.2</text><text x="431.9" y="613.6" text-anchor="middle">0.0</text><text x="458.3" y="613.6" text-anchor="middle">0.2</text><text x="484.6" y="613.6" text-anchor="middle">0.4</text><text x="511.0" y="613.6" text-anchor="middle">0.6</text><text x="537.3" y="613.6" text-anchor="middle">0.8</text><text x="563.7" y="613.6" text-anchor="middle">1.0</text><text x="590.1" y="613.6" text-anchor="middle">1.2</text><text x="616.4" y="613.6" text-anchor="middle">1.4</text><text x="642.8" y="613.6" text-anchor="middle">1.6</text><text x="669.1" y="613.6" text-anchor="middle">1.8</text><text x="401" y="591.5" text-anchor="end">-1.0</text><text x="401" y="564.9" text-anchor="end">-0.5</text><text x="401" y="538.3" text-anchor="end">0.0</text><text x="401" y="511.7" text-anchor="end">0.5</text><text x="401" y="485.1" text-anchor="end">1.0</text><text x="401" y="458.5" text-anchor="end">1.5</text><text x="401" y="431.9" text-anchor="end">2.0</text><text x="401" y="405.3" text-anchor="end">2.5</text></g>
<rect x="415.6" y="403.5" width="71.4" height="56" fill="#fff" stroke="#666" stroke-width="0.9"/>
<line x1="416.8" y1="410.9" x2="442.3" y2="410.9" stroke="#1a1a1a" stroke-width="1.3"/><text x="444.9" y="414.4" class="lg">5 mV/s</text><line x1="416.8" y1="424.6" x2="442.3" y2="424.6" stroke="#ff0000" stroke-width="1.3"/><text x="444.9" y="428.1" class="lg">10 mV/s</text><line x1="416.8" y1="438.2" x2="442.3" y2="438.2" stroke="#00e000" stroke-width="1.3"/><text x="444.9" y="441.7" class="lg">30 mV/s</text><line x1="416.8" y1="451.9" x2="442.3" y2="451.9" stroke="#1a1aff" stroke-width="1.3"/><text x="444.9" y="455.4" class="lg">50 mV/s</text>
<g fill="none" stroke-width="1.35" stroke-linejoin="round" stroke-linecap="round">
<path d="M432.2 559.7 C432.4 559.0 432.9 557.1 433.5 555.7 C434.1 554.3 434.7 552.8 435.6 551.5 C436.5 550.2 437.6 548.9 438.8 547.8 C440.0 546.7 441.4 545.9 443.0 545.1 C444.6 544.3 446.0 543.8 448.3 543.2 C450.6 542.6 453.5 542.0 456.7 541.4 C459.9 540.8 463.8 540.3 467.3 539.8 C470.8 539.3 474.4 538.7 477.9 538.2 C481.4 537.7 485.0 537.0 488.5 536.6 C492.0 536.2 495.1 536.0 499.1 535.8 C503.1 535.6 507.5 535.3 512.6 535.2 C517.8 535.1 520.4 535.0 530.0 535.0 C539.6 535.0 561.8 534.9 570.1 535.0 C578.5 535.1 577.4 535.0 580.1 535.5 C582.8 536.0 584.1 537.2 586.1 538.0 C588.1 538.8 590.4 539.2 592.2 540.0 C594.1 540.8 595.8 541.9 597.2 542.5 C598.6 543.1 599.2 543.6 600.4 543.5 C601.6 543.4 602.9 542.9 604.3 542.1 C605.7 541.3 607.2 540.1 608.9 538.9 C610.6 537.7 612.5 535.8 614.4 534.7 C616.2 533.6 618.1 533.1 620.0 532.4 C621.9 531.7 623.8 531.5 625.6 530.6 C627.5 529.7 629.4 528.5 631.1 526.9 C632.8 525.3 634.4 523.3 635.7 521.3 C637.0 519.3 638.1 517.1 639.0 514.8 C639.9 512.5 640.7 509.9 641.3 507.4 C641.9 504.9 642.3 502.4 642.7 500.0 C643.1 497.6 643.4 494.0 643.5 492.8 M643.5 492.8 C642.4 493.7 638.6 496.8 637.0 498.0 C635.4 499.2 635.0 499.4 633.9 500.0 C632.8 500.6 631.6 500.9 630.2 501.9 C628.8 502.9 627.2 504.5 625.6 506.0 C624.0 507.5 622.5 509.5 620.9 511.1 C619.3 512.7 617.8 514.5 616.3 515.7 C614.8 516.9 614.0 517.1 611.7 518.1 C609.4 519.1 605.5 520.6 602.4 521.8 C599.3 523.0 595.9 524.3 593.1 525.5 C590.3 526.7 587.5 528.2 585.7 529.2 C583.9 530.2 586.4 531.1 582.1 531.5 C577.8 531.9 568.8 531.7 560.1 531.8 C551.4 531.9 537.9 531.7 530.0 532.2 C522.1 532.7 517.8 534.1 512.6 534.6 C507.5 535.1 503.1 535.3 499.1 535.5 C495.1 535.7 492.0 535.9 488.5 536.0 C485.0 536.1 481.4 536.1 477.9 536.4 C474.4 536.6 470.8 537.1 467.3 537.5 C463.8 537.9 460.2 538.2 456.7 538.8 C453.2 539.4 449.7 540.1 446.2 540.9 C442.7 541.7 437.9 543.1 435.6 543.7 C433.3 544.3 432.8 544.5 432.2 544.6" stroke="#222"/>
<path d="M432.2 548.8 C432.8 548.6 434.2 548.2 435.6 547.8 C437.1 547.4 439.1 546.7 440.9 546.2 C442.7 545.8 443.6 545.5 446.2 545.1 C448.8 544.7 453.2 544.2 456.7 543.8 C460.2 543.4 464.6 542.9 467.3 542.5 C470.0 542.1 470.8 541.9 472.6 541.4 C474.4 540.9 476.1 540.3 477.9 539.8 C479.7 539.3 481.4 538.7 483.2 538.2 C485.0 537.7 485.9 537.2 488.5 536.9 C491.1 536.5 495.6 536.3 499.1 536.1 C502.6 535.9 504.4 536.0 509.7 535.9 C515.0 535.8 524.1 535.6 530.8 535.6 C537.5 535.6 544.4 535.7 550.1 535.8 C555.8 535.9 561.8 536.0 565.1 536.2 C568.4 536.4 568.6 536.4 570.1 537.0 C571.6 537.6 572.8 539.1 574.1 540.0 C575.4 540.9 576.8 541.5 578.1 542.5 C579.4 543.5 580.8 545.1 582.1 546.1 C583.4 547.1 584.7 547.9 586.1 548.6 C587.5 549.3 589.4 550.0 590.7 550.1 C592.1 550.2 593.0 549.9 594.2 549.1 C595.5 548.3 596.7 546.5 598.2 545.1 C599.7 543.8 601.4 542.6 603.2 541.0 C605.0 539.4 607.2 536.6 608.9 535.2 C610.6 533.8 611.8 533.3 613.5 532.4 C615.2 531.5 617.4 530.7 619.1 529.6 C620.8 528.5 622.3 527.3 623.7 525.9 C625.1 524.5 626.2 523.1 627.4 521.3 C628.6 519.4 630.0 517.0 631.1 514.8 C632.2 512.6 633.0 510.8 633.9 508.3 C634.8 505.8 635.8 502.5 636.7 500.0 C637.6 497.5 638.5 495.9 639.3 493.1 C640.1 490.3 640.8 486.9 641.4 483.2 C642.0 479.5 642.6 474.0 643.0 470.9 C643.4 467.8 643.4 465.5 643.5 464.4 M643.5 464.4 C642.4 465.3 639.1 467.5 637.0 469.6 C634.9 471.7 632.9 474.5 630.9 477.0 C628.9 479.5 626.8 481.7 624.7 484.4 C622.6 487.1 620.4 490.5 618.5 493.1 C616.6 495.7 614.8 498.2 613.5 500.0 C612.2 501.8 611.8 502.5 610.7 503.7 C609.6 504.9 608.4 506.3 607.0 507.4 C605.6 508.5 604.2 509.3 602.4 510.2 C600.5 511.1 598.2 511.9 595.9 513.0 C593.6 514.1 591.0 515.6 588.5 517.1 C586.0 518.6 583.2 520.5 581.1 521.8 C579.0 523.1 577.4 524.0 575.6 525.0 C573.8 526.0 572.7 527.3 570.1 528.0 C567.5 528.7 565.1 528.7 560.1 529.2 C555.1 529.7 545.0 530.3 540.0 530.8 C535.0 531.3 534.6 531.5 530.0 532.0 C525.4 532.5 517.8 533.2 512.6 533.7 C507.5 534.2 503.1 534.7 499.1 535.0 C495.1 535.3 492.0 535.2 488.5 535.3 C485.0 535.4 481.4 535.4 477.9 535.4 C474.4 535.4 470.8 535.3 467.3 535.4 C463.8 535.5 460.2 535.6 456.7 535.9 C453.2 536.2 448.8 536.8 446.2 537.2 C443.6 537.6 442.7 537.8 440.9 538.2 C439.1 538.6 437.1 539.2 435.6 539.8 C434.2 540.4 432.8 541.5 432.2 541.9" stroke="#ff1010"/>
<path d="M432.2 555.2 C432.8 555.0 434.2 554.5 435.6 554.1 C437.1 553.7 439.1 553.4 440.9 553.0 C442.7 552.6 444.4 552.4 446.2 552.0 C448.0 551.6 449.8 551.3 451.5 550.9 C453.2 550.5 454.9 550.1 456.7 549.6 C458.4 549.1 460.2 548.5 462.0 547.8 C463.8 547.1 465.5 546.4 467.3 545.6 C469.1 544.8 470.8 543.8 472.6 543.0 C474.4 542.2 476.1 541.5 477.9 540.7 C479.7 540.0 481.4 539.1 483.2 538.5 C485.0 537.9 485.9 537.6 488.5 537.2 C491.1 536.9 495.6 536.5 499.1 536.4 C502.6 536.3 506.2 536.3 509.7 536.4 C513.2 536.5 516.7 536.8 520.2 536.9 C523.7 537.0 527.5 537.2 530.8 537.2 C534.1 537.2 537.3 537.1 540.0 537.2 C542.7 537.3 545.1 537.3 547.0 537.6 C548.9 537.9 549.9 538.3 551.1 539.0 C552.3 539.7 553.2 540.6 554.1 542.0 C555.0 543.4 555.7 545.2 556.6 547.1 C557.5 549.0 558.5 551.2 559.6 553.1 C560.7 555.0 561.9 556.9 563.1 558.6 C564.4 560.4 565.6 562.1 567.1 563.6 C568.6 565.1 570.6 566.5 572.1 567.6 C573.6 568.7 575.0 569.5 576.1 570.1 C577.2 570.7 577.8 571.5 578.6 571.3 C579.4 571.1 580.3 570.1 581.1 569.1 C581.9 568.1 582.8 566.6 583.6 565.1 C584.4 563.6 585.3 561.7 586.1 560.1 C586.9 558.5 587.6 557.4 588.6 555.6 C589.6 553.8 590.9 551.5 592.4 549.3 C593.9 547.1 595.6 544.4 597.4 542.2 C599.2 540.0 601.5 537.8 603.4 536.2 C605.3 534.6 607.2 533.8 609.0 532.5 C610.8 531.2 612.7 530.3 614.4 528.7 C616.1 527.1 617.7 525.0 619.1 523.1 C620.5 521.2 621.7 519.5 622.8 517.6 C623.9 515.8 624.7 514.0 625.6 512.0 C626.5 510.0 627.5 507.6 628.3 505.6 C629.1 503.6 629.6 502.7 630.6 500.0 C631.6 497.3 632.9 493.2 634.0 489.4 C635.1 485.6 636.0 481.1 637.0 477.0 C638.0 472.9 639.0 468.8 639.8 464.7 C640.6 460.6 641.2 456.4 641.7 452.3 C642.2 448.2 642.3 443.4 642.6 440.0 C642.9 436.6 643.1 434.4 643.3 432.0 C643.5 429.6 643.7 426.6 643.8 425.5 M643.8 425.5 C643.5 426.4 642.7 428.5 641.8 430.9 C640.9 433.3 639.5 437.1 638.3 440.0 C637.1 442.9 635.7 445.7 634.6 448.6 C633.5 451.5 632.6 454.6 631.5 457.3 C630.4 460.0 629.1 462.4 627.8 464.7 C626.5 467.0 625.2 468.8 623.5 470.9 C621.8 472.9 619.2 475.1 617.3 477.0 C615.4 478.9 614.1 479.5 612.3 482.0 C610.4 484.5 608.2 488.9 606.2 491.9 C604.2 494.9 602.0 497.9 600.6 500.0 C599.2 502.1 599.0 502.4 597.8 504.2 C596.5 506.0 594.6 508.7 593.1 510.6 C591.6 512.5 590.0 514.3 588.5 515.7 C587.0 517.1 585.8 517.9 583.9 519.0 C582.0 520.1 579.7 521.3 577.4 522.2 C575.1 523.1 572.9 523.7 570.0 524.3 C567.1 524.9 563.4 525.3 560.1 525.8 C556.8 526.3 553.5 527.0 550.1 527.5 C546.8 528.0 543.4 528.5 540.0 529.0 C536.6 529.5 533.3 529.6 530.0 530.2 C526.7 530.8 523.6 531.8 520.2 532.5 C516.8 533.2 513.2 534.0 509.7 534.5 C506.2 535.0 502.6 535.1 499.1 535.3 C495.6 535.5 492.0 535.5 488.5 535.5 C485.0 535.5 481.4 535.5 477.9 535.6 C474.4 535.7 469.9 535.8 467.3 536.0 C464.7 536.2 463.8 536.4 462.0 536.6 C460.2 536.9 458.4 537.2 456.7 537.5 C454.9 537.8 453.2 538.1 451.5 538.5 C449.8 538.9 448.0 539.3 446.2 539.8 C444.4 540.3 442.7 540.8 440.9 541.4 C439.1 542.0 437.1 542.9 435.6 543.5 C434.2 544.1 432.8 544.8 432.2 545.1" stroke="#10e010"/>
<path d="M432.2 559.7 C432.8 559.6 434.2 559.4 435.6 559.1 C437.1 558.8 439.1 558.2 440.9 557.8 C442.7 557.3 444.4 556.9 446.2 556.4 C448.0 555.9 449.8 555.4 451.5 554.8 C453.2 554.2 454.9 553.6 456.7 553.0 C458.4 552.4 460.2 551.7 462.0 550.9 C463.8 550.1 465.5 549.3 467.3 548.3 C469.1 547.3 470.8 546.2 472.6 545.1 C474.4 544.0 476.1 542.9 477.9 541.9 C479.7 540.9 481.4 540.0 483.2 539.3 C485.0 538.6 485.9 538.0 488.5 537.5 C491.1 537.0 495.6 536.7 499.1 536.6 C502.6 536.5 506.2 536.7 509.7 536.9 C513.2 537.1 516.8 537.5 520.2 537.7 C523.6 537.9 527.7 538.1 530.0 538.3 C532.3 538.5 532.7 538.4 534.0 538.7 C535.3 539.0 536.8 539.4 538.0 540.0 C539.2 540.6 540.0 541.4 541.0 542.5 C542.0 543.6 543.1 545.0 544.0 546.6 C544.9 548.2 545.7 550.0 546.5 552.1 C547.3 554.2 548.1 556.8 549.0 559.1 C549.9 561.4 551.1 564.1 552.1 566.1 C553.1 568.1 554.0 569.6 555.1 571.1 C556.2 572.6 557.3 573.9 558.6 575.1 C559.9 576.3 561.7 577.2 563.1 578.1 C564.5 579.0 565.7 579.8 567.1 580.6 C568.5 581.4 570.3 582.8 571.6 582.9 C572.9 583.0 574.0 582.0 575.1 581.1 C576.2 580.2 577.1 579.1 578.1 577.6 C579.1 576.1 580.1 574.2 581.1 572.1 C582.1 570.0 583.0 567.6 584.1 565.1 C585.2 562.6 586.2 559.8 587.6 557.1 C589.0 554.4 590.6 551.6 592.2 549.1 C593.8 546.6 595.4 544.2 597.2 542.0 C599.0 539.8 601.6 537.5 603.2 536.0 C604.8 534.5 605.6 534.4 607.0 533.3 C608.4 532.2 610.2 531.1 611.7 529.6 C613.2 528.1 614.9 526.0 616.3 524.1 C617.7 522.2 618.9 520.4 620.0 518.5 C621.1 516.6 621.9 515.0 622.8 513.0 C623.7 511.0 624.8 508.7 625.6 506.5 C626.5 504.3 626.9 502.9 627.9 500.0 C628.9 497.1 630.4 493.2 631.5 489.4 C632.6 485.6 633.7 481.1 634.6 477.0 C635.5 472.9 636.2 468.8 637.0 464.7 C637.8 460.6 638.7 456.4 639.3 452.3 C639.9 448.2 640.0 443.6 640.4 440.0 C640.8 436.4 641.4 433.7 641.8 430.9 C642.2 428.1 642.6 426.1 642.9 423.1 C643.2 420.1 643.6 414.4 643.8 412.7 M643.8 412.7 C643.3 414.4 642.1 419.7 641.0 423.1 C639.9 426.5 638.5 430.4 637.2 433.2 C635.9 436.0 634.8 437.4 633.3 440.0 C631.8 442.6 630.2 445.7 628.4 448.6 C626.5 451.5 624.1 454.2 622.2 457.3 C620.4 460.4 618.9 463.9 617.3 467.2 C615.6 470.5 614.1 473.5 612.3 477.0 C610.4 480.5 608.2 484.6 606.2 488.1 C604.2 491.6 601.5 495.2 600.0 498.0 C598.5 500.8 598.0 502.7 596.9 504.6 C595.8 506.6 594.5 508.1 593.1 509.7 C591.7 511.3 590.0 513.1 588.5 514.4 C587.0 515.7 585.8 516.6 583.9 517.6 C582.0 518.6 579.7 519.6 577.4 520.4 C575.1 521.2 572.9 521.4 570.0 522.2 C567.1 523.0 563.4 524.2 560.1 525.0 C556.8 525.8 553.5 526.2 550.1 526.8 C546.8 527.4 543.2 528.0 540.0 528.5 C536.8 529.0 534.1 529.1 530.8 529.8 C527.5 530.4 523.7 531.6 520.2 532.4 C516.7 533.2 513.2 534.2 509.7 534.7 C506.2 535.2 502.6 535.2 499.1 535.4 C495.6 535.5 492.0 535.5 488.5 535.6 C485.0 535.7 480.5 535.7 477.9 535.9 C475.2 536.1 474.4 536.3 472.6 536.6 C470.8 536.9 469.1 537.2 467.3 537.5 C465.5 537.8 463.8 538.1 462.0 538.5 C460.2 538.9 458.4 539.2 456.7 539.6 C454.9 540.0 453.2 540.4 451.5 540.9 C449.8 541.4 448.0 542.0 446.2 542.5 C444.4 543.0 442.7 543.3 440.9 544.0 C439.1 544.7 437.1 545.9 435.6 546.7 C434.2 547.5 432.8 548.4 432.2 548.8" stroke="#1a1aff"/>
</g>
<text class="ser" transform="translate(376.5,493.3) rotate(-90)" text-anchor="middle" style="font-size:12.4px;fill:#222;">Current Density (A/g)</text>
<text class="ser" x="462.1" y="634.5" style="font-size:12.4px;fill:#222;">Potential (V vs. Ag/AgCl)</text>
<path d="M561.4 636.8 l1.5 -1 l1.5 1 l1.5 -1 l1.5 1 l1.5 -1 l1.5 1 l1.5 -1 l1.5 1 l1.5 -1 l1.5 1 l1.5 -1 l1.5 1 l1.5 -1 l1.5 1 l1.5 -1 l1.5 1 l1.5 -1 l1.5 1" fill="none" stroke="#e82020" stroke-width="0.8"/>
<rect x="670.2" y="380" width="20" height="268" fill="#fff"/>
</svg>
<div id="title" class="abs">rGO/&alpha;-Fe<sub>2</sub>O<sub>3</sub> // rGO/TiO<sub>2</sub> High-Performance Hybrid Asymmetric Supercapacitor</div>
<div id="capL" class="abs cap">rGO/&alpha;-Fe<sub>2</sub>O<sub>3</sub> nanocomposite</div>
<div id="capR" class="abs cap">rGO/TiO<sub>2</sub> nanocomposite</div>
</body></html>
